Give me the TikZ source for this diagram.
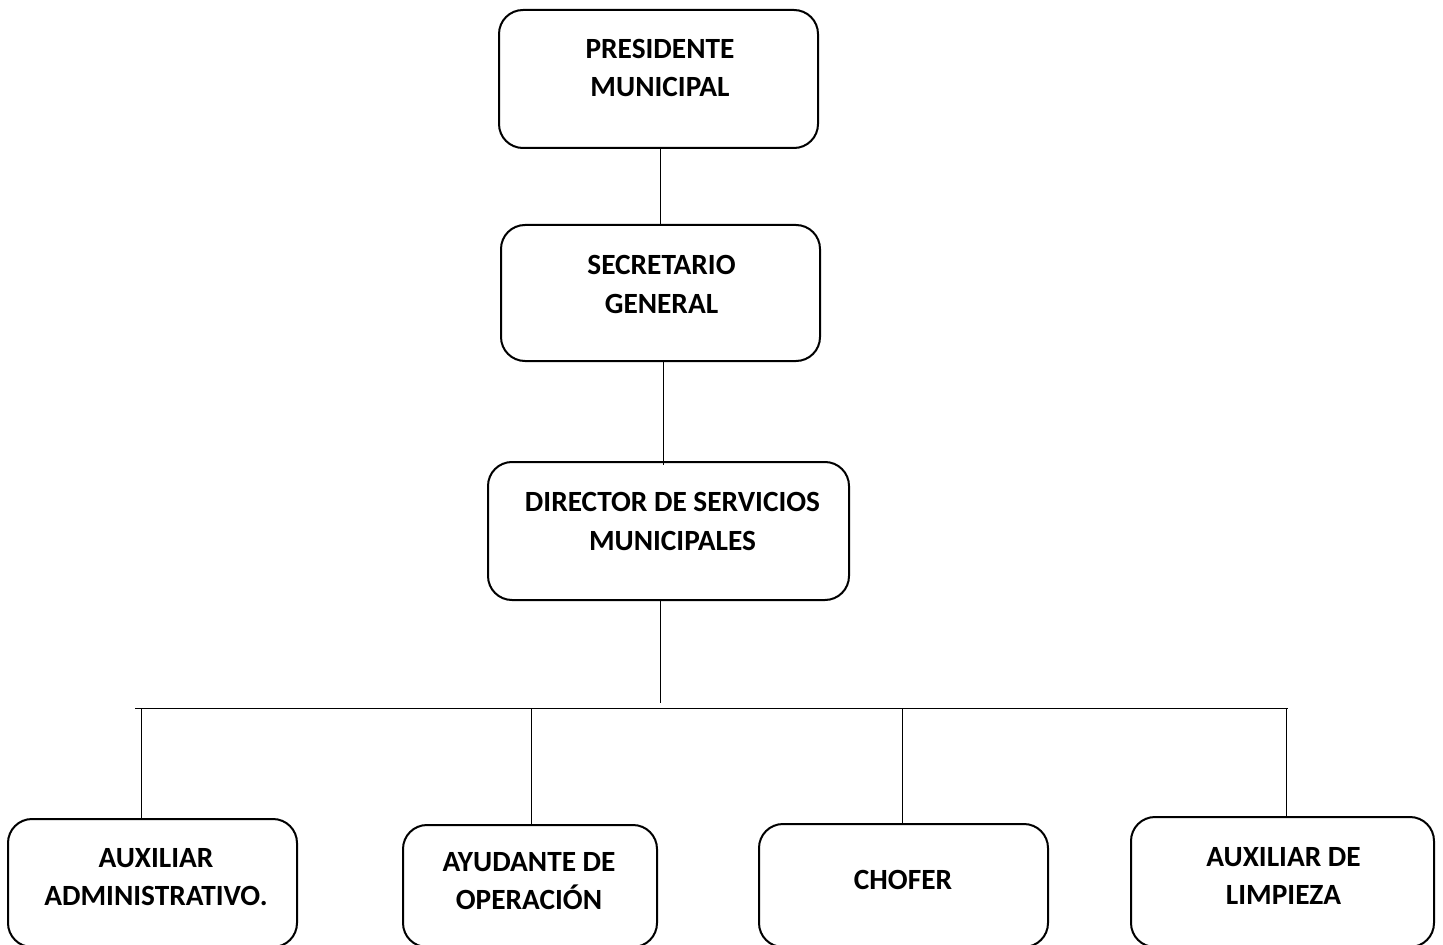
\documentclass[tikz,border=0pt]{standalone}
\usepackage{fontspec}
\setmainfont{Carlito}
\begin{document}
\begin{tikzpicture}[x=0.75pt,y=-0.75pt,
  box/.style={draw, line width=1.5pt, rounded corners=18pt, inner sep=0pt},
  txt/.style={align=center, font=\fontsize{22}{29}\selectfont\bfseries, inner sep=0pt},
  conn/.style={line width=0.75pt}]
\useasboundingbox (0,0) rectangle (1443,945);
% boxes
\node[box, minimum width=239.25pt, minimum height=103.5pt] (p) at (658.5,79) {};
\node[box, minimum width=239.25pt, minimum height=102pt] (s) at (660.5,293) {};
\node[box, minimum width=270.75pt, minimum height=103.5pt] (d) at (668.5,531) {};
\node[box, minimum width=216.75pt, minimum height=96pt] (a1) at (152.5,883) {};
\node[box, minimum width=190.5pt, minimum height=91.5pt] (a2) at (530,886) {};
\node[box, minimum width=216.75pt, minimum height=92.25pt] (a3) at (903.5,885.5) {};
\node[box, minimum width=227.25pt, minimum height=97.5pt] (a4) at (1282.5,882) {};
% texts
\node[txt] (pt) at (660,68) {PRESIDENTE\\MUNICIPAL};
\node[txt] (st) at (661.5,284.5) {SECRETARIO\\GENERAL};
\node[txt] (dt) at (672.5,521.5) {DIRECTOR DE SERVICIOS\\MUNICIPALES};
\node[txt] (a1t) at (156,877) {AUXILIAR\\ADMINISTRATIVO.};
\node[txt] (a2t) at (529,881) {AYUDANTE DE\\OPERACIÓN};
\node[txt] (a3t) at (903,880) {CHOFER};
\node[txt] (a4t) at (1283.5,876) {AUXILIAR DE\\LIMPIEZA};
% bus
\coordinate (bl) at (135,708);
\coordinate (br) at (1288,708);
\coordinate (b0) at (660,708);
\coordinate (b1) at (141,708);
\coordinate (b2) at (531,708);
\coordinate (b3) at (902.5,708);
\coordinate (b4) at (1286,708);
% connectors
\draw[conn] (p.south -| 660,0) -- (s.north -| 660,0);
\draw[conn] (s.south -| 663,0) -- ([yshift=-3pt]d.north -| 663,0);
\draw[conn] (d.south -| 660,0) -- ([yshift=4pt]b0);
\draw[conn] (bl) -- (br);
\draw[conn] (b1) -- (b1 |- a1.north);
\draw[conn] (b2) -- (b2 |- a2.north);
\draw[conn] (b3) -- (b3 |- a3.north);
\draw[conn] (b4) -- (b4 |- a4.north);
\end{tikzpicture}
\end{document}
